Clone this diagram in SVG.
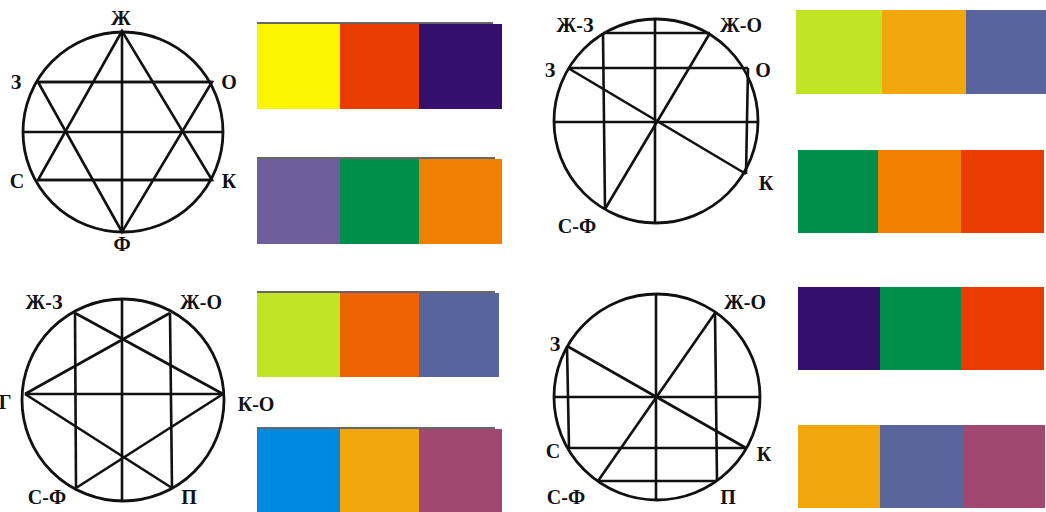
<svg xmlns="http://www.w3.org/2000/svg" width="1046" height="512" viewBox="0 0 1046 512">
<style>
.c{fill:none;stroke:#111;stroke-width:2.8}
.l{stroke:#111;stroke-width:2.6;fill:none}
.t{font-family:"Liberation Serif","DejaVu Serif",serif;font-weight:bold;font-size:20px;fill:#111;text-anchor:middle}
.edge{stroke:#333;stroke-width:1.5}
</style>
<rect width="1046" height="512" fill="#fff"/>
<g id="wheel1">
<circle class="c" cx="123" cy="132" r="100"/>
<g class="l">
<line x1="122" y1="31" x2="122" y2="232"/>
<line x1="38" y1="82" x2="212" y2="82"/>
<line x1="38" y1="180" x2="212" y2="180"/>
<line x1="24" y1="132" x2="222" y2="132"/>
<polygon points="122,31 38,180 212,180"/>
<polygon points="122,232 38,82 212,82"/>
</g>
<text class="t" x="121" y="25">Ж</text>
<text class="t" x="16" y="89">З</text>
<text class="t" x="229" y="89">О</text>
<text class="t" x="17" y="188">С</text>
<text class="t" x="229" y="188">К</text>
<text class="t" x="122" y="251">Ф</text>
</g>
<g id="swatch1a">
<line class="edge" x1="257" y1="23" x2="493" y2="23"/>
<rect x="257" y="24" width="83" height="85" fill="#FCF500"/>
<rect x="340" y="24" width="79" height="85" fill="#E93C00"/>
<rect x="419" y="24" width="83" height="85" fill="#340F6C"/>
</g>
<g id="swatch1b">
<line class="edge" x1="257" y1="158" x2="495" y2="158"/>
<rect x="257" y="159" width="83" height="85" fill="#705D9C"/>
<rect x="340" y="159" width="79" height="85" fill="#008F4A"/>
<rect x="419" y="159" width="83" height="85" fill="#F08000"/>
</g>
<g id="wheel2">
<circle class="c" cx="656" cy="121" r="102"/>
<g class="l">
<line x1="655" y1="19" x2="655" y2="223"/>
<line x1="554" y1="122" x2="758" y2="122"/>
<line x1="603" y1="33" x2="710" y2="33"/>
<line x1="568" y1="68" x2="748" y2="68"/>
<line x1="603" y1="33" x2="605" y2="209"/>
<line x1="748" y1="68" x2="746" y2="174"/>
<line x1="568" y1="68" x2="746" y2="174"/>
<line x1="710" y1="33" x2="605" y2="209"/>
</g>
<text class="t" x="575" y="32">Ж-З</text>
<text class="t" x="741" y="32">Ж-О</text>
<text class="t" x="550" y="77">З</text>
<text class="t" x="763" y="77">О</text>
<text class="t" x="766" y="190">К</text>
<text class="t" x="577" y="233">С-Ф</text>
</g>
<g id="swatch2a">
<rect x="796" y="10" width="86" height="84" fill="#C3E325"/>
<rect x="882" y="10" width="84" height="84" fill="#F2A80D"/>
<rect x="966" y="10" width="80" height="84" fill="#57649D"/>
</g>
<g id="swatch2b">
<rect x="798" y="150" width="80" height="83" fill="#008F4A"/>
<rect x="878" y="150" width="83" height="83" fill="#F28100"/>
<rect x="961" y="150" width="83" height="83" fill="#EA3B00"/>
</g>
<g id="wheel3">
<circle class="c" cx="123" cy="400" r="101"/>
<g class="l">
<line x1="122" y1="299" x2="122" y2="501"/>
<line x1="25" y1="394" x2="223" y2="394"/>
<line x1="75" y1="313" x2="76" y2="488"/>
<line x1="170" y1="313" x2="172" y2="488"/>
<line x1="75" y1="313" x2="223" y2="394"/>
<line x1="170" y1="313" x2="25" y2="394"/>
<line x1="25" y1="394" x2="172" y2="488"/>
<line x1="223" y1="394" x2="76" y2="488"/>
</g>
<text class="t" x="44" y="309">Ж-З</text>
<text class="t" x="201" y="309">Ж-О</text>
<text class="t" x="5" y="409">Г</text>
<text class="t" x="256" y="411">К-О</text>
<text class="t" x="47" y="504">С-Ф</text>
<text class="t" x="189" y="504">П</text>
</g>
<g id="swatch3a">
<line class="edge" x1="257" y1="292" x2="495" y2="292"/>
<rect x="257" y="293" width="83" height="84" fill="#C3E325"/>
<rect x="340" y="293" width="79" height="84" fill="#EE6400"/>
<rect x="419" y="293" width="80" height="84" fill="#57649D"/>
</g>
<g id="swatch3b">
<line class="edge" x1="257" y1="428" x2="495" y2="428"/>
<rect x="257" y="429" width="83" height="83" fill="#0089E0"/>
<rect x="340" y="429" width="79" height="83" fill="#F2A80D"/>
<rect x="419" y="429" width="83" height="83" fill="#A04870"/>
</g>
<g id="wheel4">
<circle class="c" cx="657" cy="397" r="103"/>
<g class="l">
<line x1="656" y1="294" x2="656" y2="500"/>
<line x1="554" y1="397" x2="760" y2="397"/>
<line x1="567" y1="346" x2="569" y2="448"/>
<line x1="715" y1="313" x2="717" y2="481"/>
<line x1="569" y1="448" x2="746" y2="448"/>
<line x1="598" y1="481" x2="717" y2="481"/>
<line x1="567" y1="346" x2="746" y2="448"/>
<line x1="715" y1="313" x2="598" y2="481"/>
</g>
<text class="t" x="745" y="309">Ж-О</text>
<text class="t" x="555" y="351">З</text>
<text class="t" x="553" y="458">С</text>
<text class="t" x="764" y="461">К</text>
<text class="t" x="566" y="504">С-Ф</text>
<text class="t" x="728" y="504">П</text>
</g>
<g id="swatch4a">
<rect x="798" y="287" width="82" height="83" fill="#340F6C"/>
<rect x="880" y="287" width="81" height="83" fill="#008F4A"/>
<rect x="961" y="287" width="83" height="83" fill="#EA3B00"/>
</g>
<g id="swatch4b">
<rect x="798" y="425" width="82" height="83" fill="#F2A80D"/>
<rect x="880" y="425" width="83" height="83" fill="#5A659D"/>
<rect x="963" y="425" width="82" height="83" fill="#A04870"/>
</g>
</svg>
